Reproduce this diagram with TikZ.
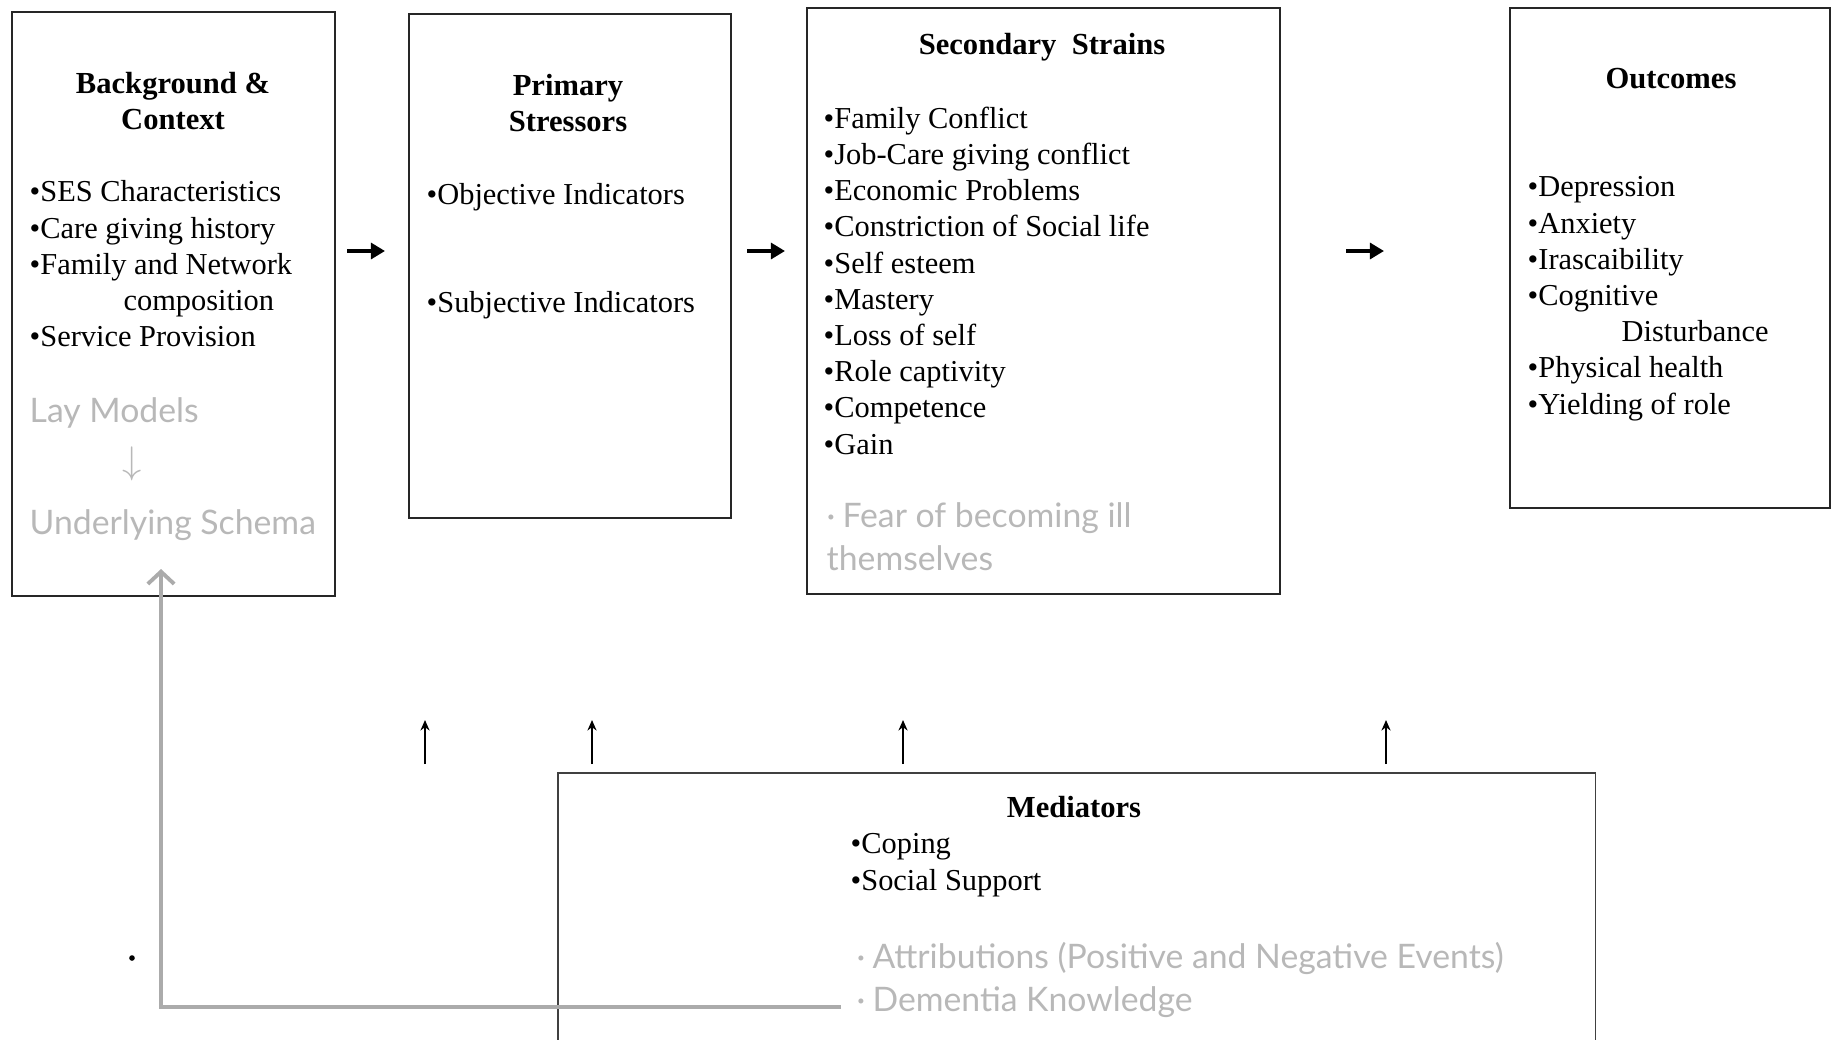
\documentclass[tikz,border=0pt]{standalone}
\usepackage{fontspec}
\setmainfont{Liberation Serif}
\newfontfamily\greyfont{Lato}
\usetikzlibrary{arrows.meta, positioning}

\begin{document}
\begin{tikzpicture}[x=0.01cm, y=-0.01cm,
    box/.style={draw=black!85, line width=0.7pt, inner sep=0pt},
    title/.style={font=\bfseries\fontsize{8.7}{10}\selectfont, align=center},
    items/.style={font=\fontsize{8.65}{10.3}\selectfont, align=left, anchor=north west, inner sep=0pt},
    faint/.style={font=\greyfont\fontsize{9.6}{12.2}\selectfont, text=black!28, align=left, anchor=north west, inner sep=0pt},
    flow/.style={-{Triangle[length=4pt,width=4.5pt]}, line width=1.2pt},
    lift/.style={-{Stealth[length=3pt,width=2.6pt]}, line width=0.4pt},
    backlink/.style={-{Straight Barb[length=3.5pt,width=7.5pt]}, draw=black!33, line width=1.1pt},
]
    \useasboundingbox (0,0) rectangle (1831,1039);

    % boxes
    \node[box, minimum width=3.23cm, minimum height=5.84cm] (bg) at (173.5,304) {};
    \node[box, minimum width=3.22cm, minimum height=5.04cm] (prim) at (570,266) {};
    \node[box, minimum width=4.73cm, minimum height=5.86cm] (sec) at (1043.5,301) {};
    \node[box, minimum width=3.20cm, minimum height=5.00cm] (out) at (1670,258) {};
    \node[box, draw=black!75, line width=0.45pt, minimum width=10.37cm, minimum height=2.87cm] (med) at (1076.5,916.5) {};

    % background & context
    \node[title] (bgtitle) at (173,101) {Background \&\\Context};
    \node[items] (bglist) at (29,180) {•SES Characteristics\\•Care giving history\\•Family and Network\\\hspace*{26.7pt}composition\\•Service Provision};
    \node[faint] (lay) at (29,397) {Lay Models};
    \node[text=black!28, font=\fontsize{11}{11}\selectfont] (laydown) at (132,464) {$\downarrow$};
    \node[faint] (schema) at (29,509) {Underlying Schema};

    % primary stressors
    \node[title] (primtitle) at (568,103) {Primary\\Stressors};
    \node[items] (objective) at (426,183) {•Objective Indicators};
    \node[items] (subjective) at (426,291) {•Subjective Indicators};

    % secondary strains
    \node[title] (sectitle) at (1042,47) {Secondary\ \ Strains};
    \node[items] (seclist) at (823,106) {•Family Conflict\\•Job-Care giving conflict\\•Economic Problems\\•Constriction of Social life\\•Self esteem\\•Mastery\\•Loss of self\\•Role captivity\\•Competence\\•Gain};
    \node[faint] (fear) at (826,502) {·\hspace{2pt}Fear of becoming ill\\themselves};

    % outcomes
    \node[title] (outtitle) at (1671,79) {Outcomes};
    \node[items] (outlist) at (1527,176) {•Depression\\•Anxiety\\•Irascaibility\\•Cognitive\\\hspace*{26.7pt}Disturbance\\•Physical health\\•Yielding of role};

    % mediators
    \node[title] (medtitle) at (1074,807) {Mediators};
    \node[items] (medlist) at (850,833) {•Coping\\•Social Support};
    \node[faint] (medgrey) at (856,942) {·\hspace{2pt}Attributions (Positive and Negative Events)\\·\hspace{2pt}Dementia Knowledge};

    % arrows between the stages
    \coordinate (f1) at (347,251);
    \coordinate (f2) at (747,251);
    \coordinate (f3) at (1346,251);
    \foreach \f in {f1,f2,f3}
        \draw[flow] (\f) -- ++(38,0);

    % mediators act upward
    \foreach \x [count=\i] in {425,592,903,1386} {
        \coordinate (up\i) at (\x,764);
        \draw[lift] (up\i) -- ++(0,-44);
    }

    % feedback to background
    \coordinate (loopstart) at (841,1007);
    \coordinate (loopend) at (161,569);
    \draw[backlink] (loopstart) -| (loopend);

    \fill (132,958) circle (0.8pt);
\end{tikzpicture}
\end{document}
